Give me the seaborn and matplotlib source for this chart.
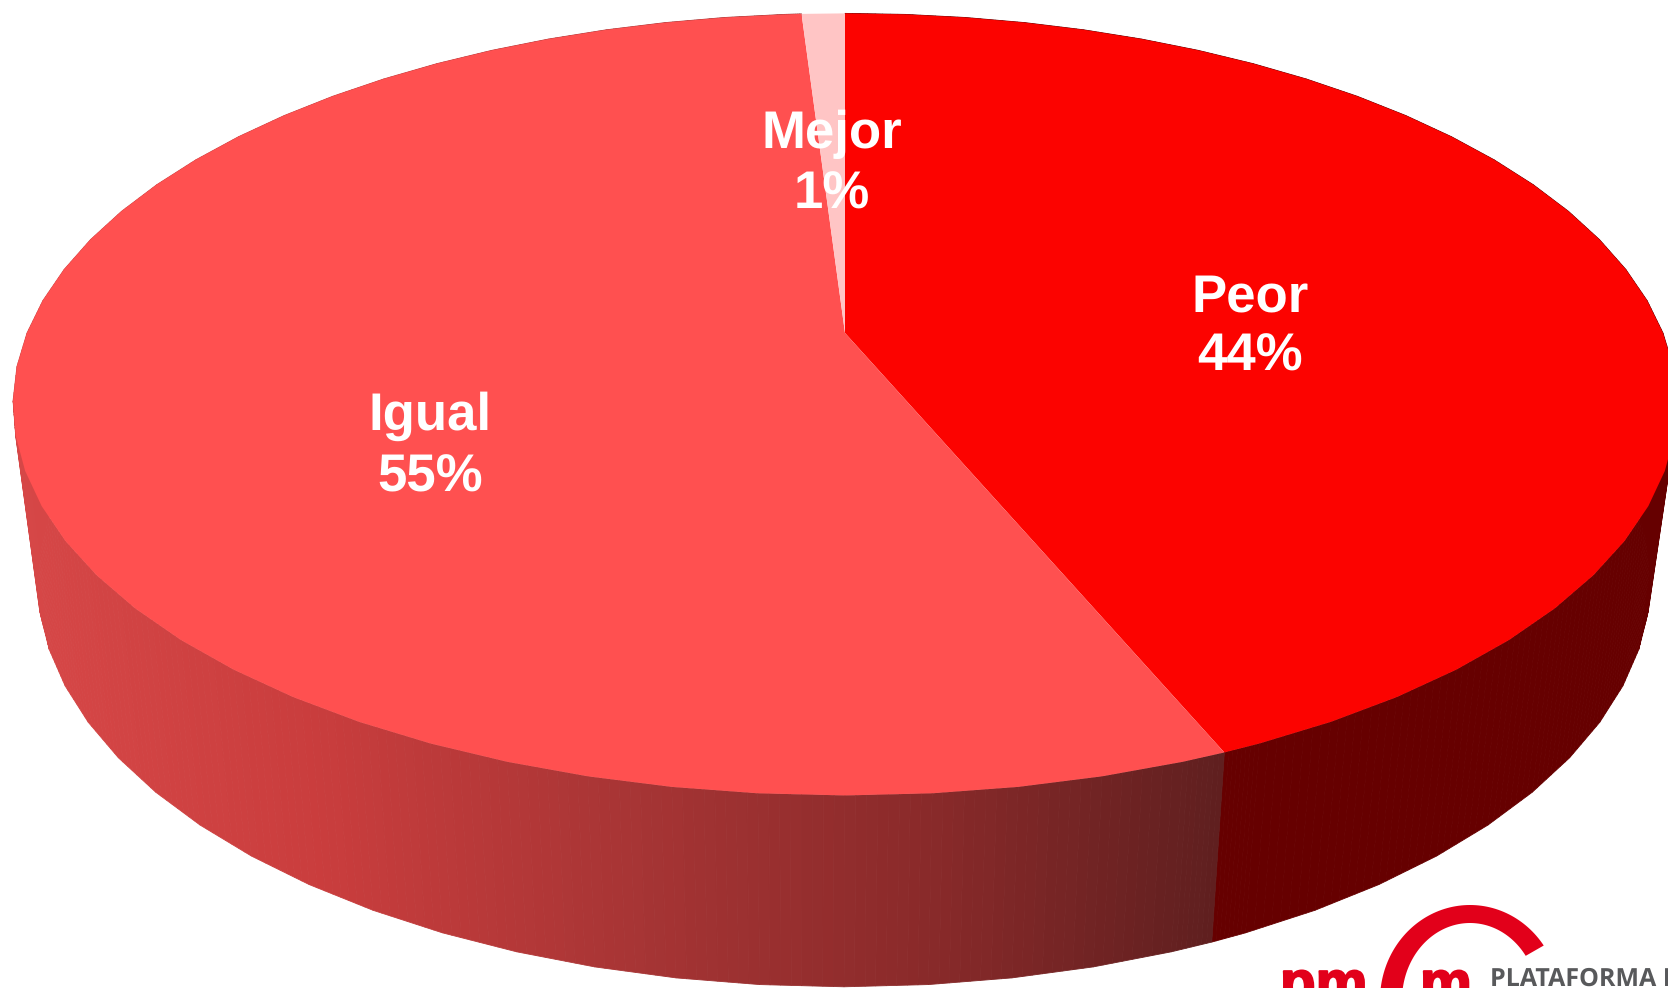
import numpy as np
import seaborn as sns
import matplotlib
matplotlib.use('Agg')
import matplotlib.pyplot as plt
import matplotlib.patheffects as pe

# Data, clockwise from 12 o'clock (unrounded shares)
categories = ['Peor', 'Igual', 'Mejor']
shares = [43.7, 55.3, 1.0]

top_colors = ['#FC0300', '#FF5050', '#FFC5C5']
side_dark = '#660000'
side_ramp = ['#D64747', '#C93D3D', '#A83535', '#8A2A2A', '#5F1F1F']

# Label anchors (pixels) for name and percent baselines
label_x = [1250, 430, 832]
name_y = [311, 430, 148]
pct_y = [371, 491, 209]

sns.set_theme(style='white')
plt.rcParams['font.family'] = ['Liberation Sans', 'DejaVu Sans']
plt.rcParams['text.hinting'] = 'no_hinting'

W, H = 1668, 988
fig = plt.figure(figsize=(W / 100, H / 100), dpi=100)
ax = fig.add_axes([0, 0, 1, 1])
ax.set_xlim(0, W)
ax.set_ylim(H, 0)
ax.axis('off')


# Perspective projection of a flat unit disc, theta in degrees clockwise from the top
def project(theta, cx=845, cy=333, a=818, b=378, k=0.1826):
    t = np.radians(theta)
    u, v = np.sin(t), np.cos(t)
    d = 1 + k * v
    return cx + a * u / d, cy - b * v / d


def rim_top(theta):
    return project(theta)


def rim_bottom(theta):
    return project(theta, cx=844, cy=506, a=793, b=393)


# The original pie is a faceted 3D shape: rim vertices every 5 degrees plus the slice edges
def facet_angles(t0, t1, step=5):
    inner = np.arange(np.ceil(t0 / step), np.floor(t1 / step) + 1) * step
    return np.unique(np.r_[t0, inner, t1])


edges = np.concatenate([[0], np.cumsum(shares)]) * 3.6

# SIDE WALL
quads = []
for i in range(2):
    ths = facet_angles(edges[i], edges[i + 1])
    for t0, t1 in zip(ths[:-1], ths[1:]):
        # split each facet so the shading can run smoothly across it
        sub = np.linspace(0, 1, 9)
        xa0, ya0 = rim_top(t0)
        xa1, ya1 = rim_top(t1)
        xb0, yb0 = rim_bottom(t0)
        xb1, yb1 = rim_bottom(t1)
        for s0, s1 in zip(sub[:-1], sub[1:]):
            quads.append((i, xa0 + (xa1 - xa0) * s0, ya0 + (ya1 - ya0) * s0,
                          xa0 + (xa1 - xa0) * s1, ya0 + (ya1 - ya0) * s1,
                          xb0 + (xb1 - xb0) * s1, yb0 + (yb1 - yb0) * s1,
                          xb0 + (xb1 - xb0) * s0, yb0 + (yb1 - yb0) * s0))
quads.sort(key=lambda q: q[6] + q[8])

x_split = rim_top(edges[1])[0]
ramp = sns.blend_palette(side_ramp, n_colors=256)
for q in quads:
    i = q[0]
    if i == 0:
        col = side_dark
    else:
        frac = np.clip(((q[1] + q[3]) / 2 - 13) / (x_split - 13), 0, 1)
        col = ramp[int(frac * 255)]
    ax.fill([q[1], q[3], q[5], q[7]], [q[2], q[4], q[6], q[8]], color=col, lw=0.6, zorder=1)

# TOP FACE
cx0, cy0 = project(0, a=0, b=0)
for i, col in enumerate(top_colors):
    ths = facet_angles(edges[i], edges[i + 1])
    xs, ys = rim_top(ths)
    ax.fill(np.r_[cx0, xs], np.r_[cy0, ys], color=col, lw=0, zorder=2)

# Labels
for name, val, x, y1, y2 in zip(categories, shares, label_x, name_y, pct_y):
    ax.text(x, y1, name, color='white', fontsize=38, fontweight='bold', ha='center', va='baseline', zorder=3)
    ax.text(x, y2, f'{round(val)}%', color='white', fontsize=38, fontweight='bold', ha='center', va='baseline', zorder=3)

# Logo, cut off by the bottom edge of the picture
logo_red = '#E2001A'
phi = np.radians(np.linspace(180, 325, 80))
ox, oy = 1470 + 90 * np.cos(phi), 1000 + 95 * np.sin(phi)
ix, iy = 1470 + 68 * np.cos(phi[::-1]), 1000 + 77 * np.sin(phi[::-1])
ax.fill(np.r_[ox, ix], np.r_[oy, iy], color=logo_red, lw=0, zorder=2)
heavy = [pe.withStroke(linewidth=1.5, foreground=logo_red)]
ax.text(1280, 1002, 'pm', color=logo_red, fontsize=42, fontweight='bold', ha='left', va='baseline',
        zorder=3, path_effects=heavy)
ax.text(1420, 1002, 'm', color=logo_red, fontsize=42, fontweight='bold', ha='left', va='baseline',
        zorder=3, path_effects=heavy)
ax.text(1490, 986, 'PLATAFORMA M', color='#58595B', fontsize=18, fontweight='bold', family='Open Sans',
        ha='left', va='baseline', zorder=3)

fig.savefig('out.png', dpi=100, facecolor='white')
